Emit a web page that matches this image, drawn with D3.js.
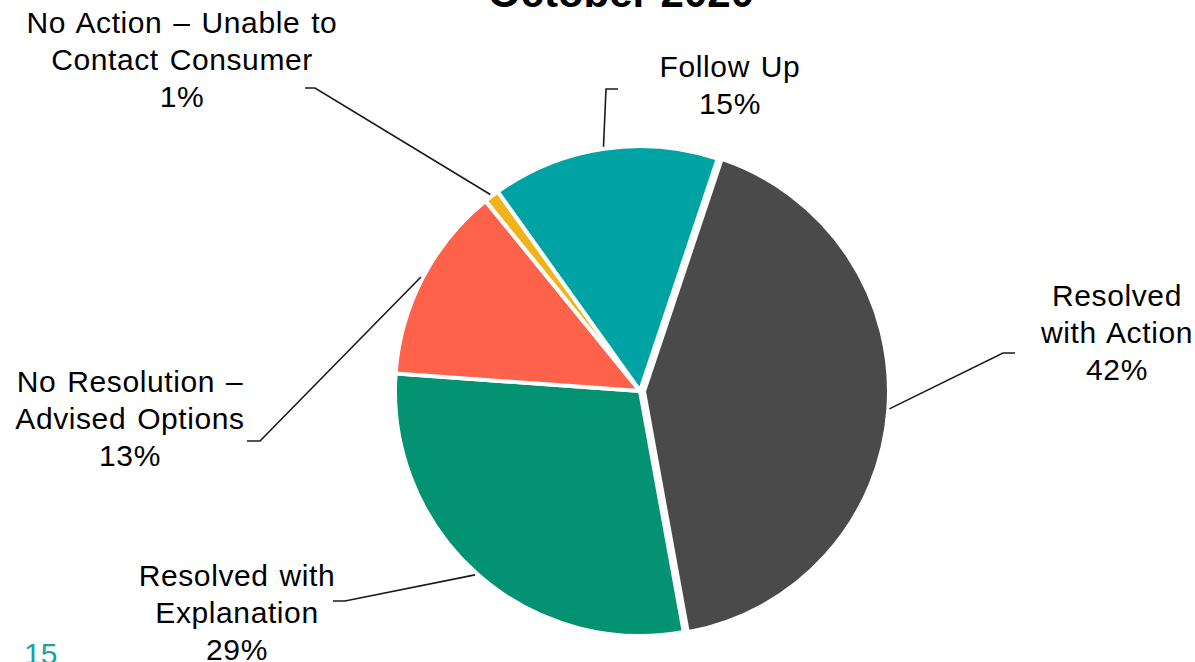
<!DOCTYPE html>
<html>
<head>
<meta charset="utf-8">
<script src="https://cdn.jsdelivr.net/npm/d3@7"></script>
<style>
  html, body { margin: 0; padding: 0; background: #ffffff; }
  svg { display: block; font-family: "Liberation Sans", Arial, sans-serif; }
</style>
</head>
<body>
<svg id="chart" width="1195" height="662"></svg>
<script>
// Complaint outcomes, October 2020
const categories = [
  "Resolved with Action",
  "Resolved with Explanation",
  "No Resolution – Advised Options",
  "No Action – Unable to Contact Consumer",
  "Follow Up"
];
const shares = [42, 29, 13, 1, 15];
const labelLines = [
  ["Resolved", "with Action"],
  ["Resolved with", "Explanation"],
  ["No Resolution –", "Advised Options"],
  ["No Action – Unable to", "Contact Consumer"],
  ["Follow Up"]
];
const colors = ["#4a4a4a", "#039272", "#ff624b", "#f0b31c", "#00a3a3"];

// Label placement: text centre, first baseline, leader elbow and end
const labelLayout = [
  { x: 1117, y: 306, elbow: [1003, 353], end: [1015, 353] },
  { x: 237,  y: 586, elbow: [345, 601],  end: [333, 601] },
  { x: 130,  y: 392, elbow: [260, 441],  end: [247, 441] },
  { x: 182,  y: 33,  elbow: [315, 88],   end: [305, 88] },
  { x: 730,  y: 77,  elbow: [606, 89],   end: [618, 89] }
];

const svg = d3.select("#chart");
const cx = 640, cy = 391, radius = 245;
const lineGap = 37;

const startDeg = 18.5;
const pie = d3.pie().sort(null).value(d => d)
  .startAngle(startDeg * Math.PI / 180)
  .endAngle((startDeg + 360) * Math.PI / 180);
const arcs = pie(shares);
const arc = d3.arc().innerRadius(0).outerRadius(radius);

const g = svg.append("g").attr("transform", `translate(${cx},${cy})`);

g.selectAll("path.slice")
  .data(arcs)
  .join("path")
  .attr("class", "slice")
  .attr("d", arc)
  .attr("transform", (d, i) => {
    if (i !== 0) return null;
    const mid = (d.startAngle + d.endAngle) / 2;
    const off = 4;
    return `translate(${off * Math.sin(mid)},${-off * Math.cos(mid)})`;
  })
  .attr("fill", (d, i) => colors[i])
  .attr("stroke", "#ffffff")
  .attr("stroke-width", 4)
  .attr("stroke-linejoin", "miter");

// Leader lines from each slice's outer mid-point
arcs.forEach((d, i) => {
  const mid = (d.startAngle + d.endAngle) / 2;
  const r = radius + 2 + (i === 0 ? 3 : 0);
  const sx = cx + r * Math.sin(mid);
  const sy = cy - r * Math.cos(mid);
  const L = labelLayout[i];
  svg.append("polyline")
    .attr("points", [[sx, sy], L.elbow, L.end].map(p => p.join(",")).join(" "))
    .attr("fill", "none")
    .attr("stroke", "#1a1a1a")
    .attr("stroke-width", 1.6);
});

// Labels: category lines plus percentage
arcs.forEach((d, i) => {
  const L = labelLayout[i];
  const lines = labelLines[i].concat([`${shares[i]}%`]);
  const t = svg.append("text")
    .attr("text-anchor", "middle")
    .attr("font-size", 30)
    .attr("letter-spacing", 0.6)
    .attr("word-spacing", 2)
    .attr("fill", "#000000");
  lines.forEach((s, k) => {
    t.append("tspan").attr("x", L.x).attr("y", L.y + k * lineGap).text(s);
  });
});

// Title
svg.append("text")
  .attr("x", 621).attr("y", 7)
  .attr("text-anchor", "middle")
  .attr("font-size", 42)
  .attr("font-weight", "bold")
  .attr("fill", "#000000")
  .text("October 2020");

// Page number
svg.append("text")
  .attr("x", 24).attr("y", 664)
  .attr("font-size", 30)
  .attr("fill", "#17a2a2")
  .text("15");
</script>
</body>
</html>
